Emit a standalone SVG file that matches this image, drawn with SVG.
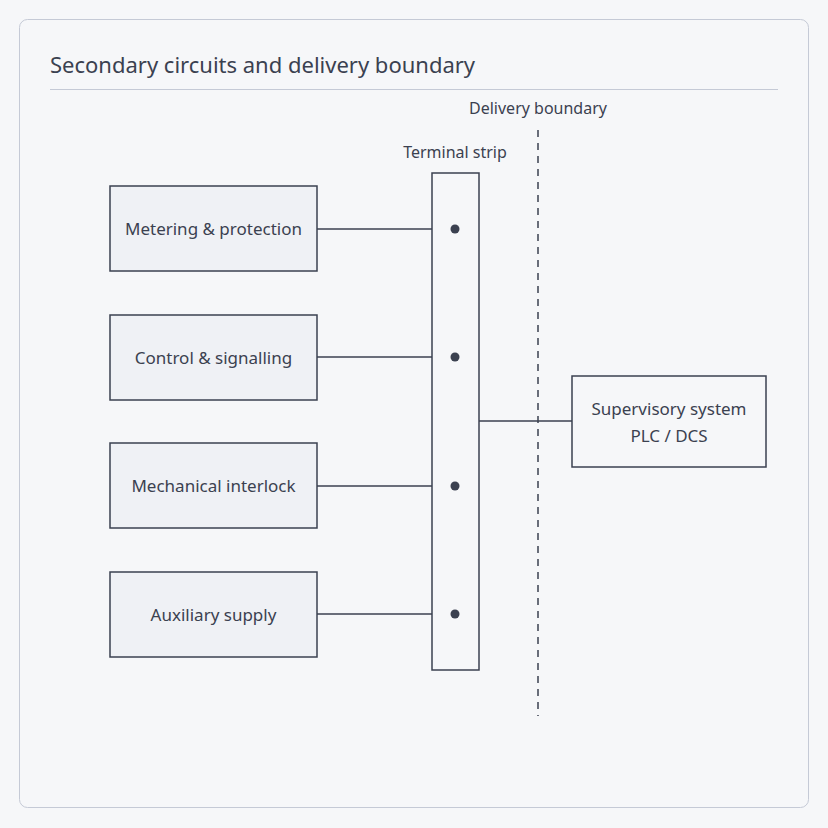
<svg xmlns="http://www.w3.org/2000/svg" width="828" height="828" viewBox="0 0 828 828">
<style>
text{font-family:"Noto Sans","Open Sans",sans-serif;fill:#3b4150}
.box{fill:#eff1f5;stroke:#3b4150;stroke-width:1.5}
.ln{stroke:#3b4150;stroke-width:1.5;fill:none}
.lbl{font-size:17px;text-anchor:middle}
</style>
<rect width="828" height="828" fill="#f6f7f9"/>
<rect x="19.5" y="19.5" width="789" height="788" rx="8" fill="#f6f7f9" stroke="#c5cad6"/>
<text x="50" y="73" font-size="22">Secondary circuits and delivery boundary</text>
<line x1="50" y1="89.5" x2="778" y2="89.5" stroke="#c5cad6"/>
<g id="connectors">
<line class="ln" x1="317" y1="229" x2="432" y2="229"/>
<line class="ln" x1="317" y1="357" x2="432" y2="357"/>
<line class="ln" x1="317" y1="486" x2="432" y2="486"/>
<line class="ln" x1="317" y1="614" x2="432" y2="614"/>
<line class="ln" x1="479" y1="421" x2="572" y2="421"/>
</g>
<g id="boundary">
<line x1="538" y1="130" x2="538" y2="716" stroke="#3b4150" stroke-width="1.5" stroke-dasharray="7,6"/>
<text x="538" y="114" font-size="16" text-anchor="middle">Delivery boundary</text>
</g>
<g id="strip">
<rect x="432" y="173" width="47" height="497" fill="#f6f7f9" stroke="#3b4150" stroke-width="1.5"/>
<text x="455" y="158" font-size="16" text-anchor="middle">Terminal strip</text>
<circle cx="455" cy="229" r="4.5" fill="#3b4150"/>
<circle cx="455" cy="357" r="4.5" fill="#3b4150"/>
<circle cx="455" cy="486" r="4.5" fill="#3b4150"/>
<circle cx="455" cy="614" r="4.5" fill="#3b4150"/>
</g>
<g id="metering"><rect class="box" x="110" y="186" width="207" height="85"/><text class="lbl" x="213.5" y="235">Metering &amp; protection</text></g>
<g id="control"><rect class="box" x="110" y="315" width="207" height="85"/><text class="lbl" x="213.5" y="364">Control &amp; signalling</text></g>
<g id="interlock"><rect class="box" x="110" y="443" width="207" height="85"/><text class="lbl" x="213.5" y="492">Mechanical interlock</text></g>
<g id="aux"><rect class="box" x="110" y="572" width="207" height="85"/><text class="lbl" x="213.5" y="621">Auxiliary supply</text></g>
<g id="supervisory"><rect x="572" y="376" width="194" height="91" fill="#f6f7f9" stroke="#3b4150" stroke-width="1.5"/>
<text class="lbl" x="669" y="415">Supervisory system</text><text class="lbl" x="669" y="442">PLC / DCS</text></g>
</svg>
